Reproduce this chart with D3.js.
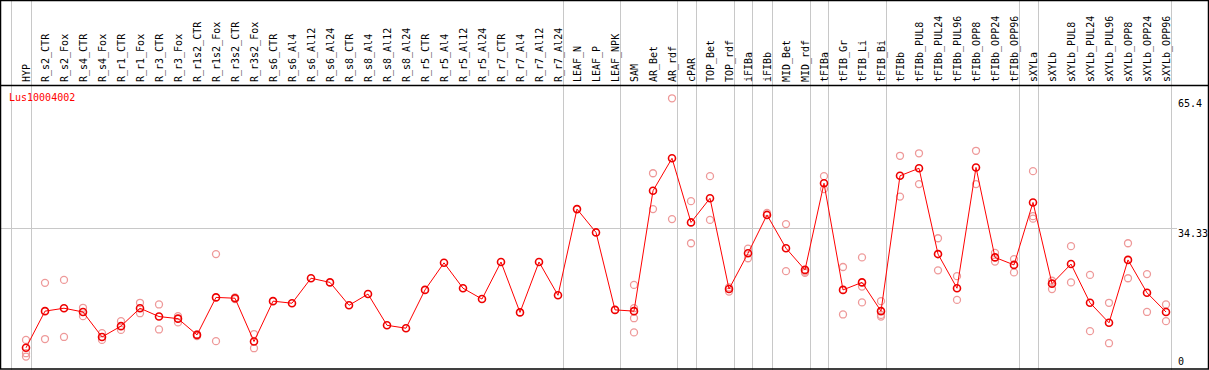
<!DOCTYPE html>
<html>
<head>
<meta charset="utf-8">
<script src="https://cdn.jsdelivr.net/npm/d3@7"></script>
<style>
  body { margin: 0; background: #fff; }
  svg { display: block; }
  text { font-family: "DejaVu Sans Mono", monospace; font-size: 10px; }
</style>
</head>
<body>
<div class="chart"></div>
<script>
var title = "Lus10004002";

var categories = ["HYP", "R_s2_CTR", "R_s2_Fox", "R_s4_CTR", "R_s4_Fox", "R_r1_CTR", "R_r1_Fox",
    "R_r3_CTR", "R_r3_Fox", "R_r1s2_CTR", "R_r1s2_Fox", "R_r3s2_CTR", "R_r3s2_Fox",
    "R_s6_CTR", "R_s6_Al4", "R_s6_Al12", "R_s6_Al24", "R_s8_CTR", "R_s8_Al4", "R_s8_Al12", "R_s8_Al24",
    "R_r5_CTR", "R_r5_Al4", "R_r5_Al12", "R_r5_Al24", "R_r7_CTR", "R_r7_Al4", "R_r7_Al12", "R_r7_Al24",
    "LEAF_N", "LEAF_P", "LEAF_NPK", "SAM", "AR_Bet", "AR_rdf", "cPAR", "TOP_Bet", "TOP_rdf",
    "iFIBa", "iFIBb", "MID_Bet", "MID_rdf", "tFIBa", "tFIB_Gr", "tFIB_Li", "tFIB_Bi",
    "tFIBb", "tFIBb_PUL8", "tFIBb_PUL24", "tFIBb_PUL96", "tFIBb_OPP8", "tFIBb_OPP24", "tFIBb_OPP96",
    "sXYLa", "sXYLb", "sXYLb_PUL8", "sXYLb_PUL24", "sXYLb_PUL96", "sXYLb_OPP8", "sXYLb_OPP24", "sXYLb_OPP96"];

// number of samples in each tissue group (separated by grey lines)
var groupSizes = [1, 28, 3, 3, 1, 2, 1, 1, 2, 1, 3, 7, 1, 7];

var means = [5.5, 14.3, 15.0, 14.1, 8.1, 10.7, 15.0, 13.0, 12.5, 8.6, 17.6, 17.4, 7.0,
    16.7, 16.2, 22.2, 21.2, 15.7, 18.4, 10.9, 10.2, 19.4, 25.9, 19.8, 17.2, 26.1, 14.0, 26.1, 18.1,
    38.8, 33.2, 14.6, 14.3, 43.2, 51.0, 35.6, 41.4, 19.6, 28.2, 37.4, 29.4, 24.2, 45.0, 19.4, 21.2, 14.3,
    46.8, 48.6, 28.0, 19.8, 48.8, 27.2, 25.4, 40.4, 20.9, 25.6, 16.3, 11.5, 26.6, 18.7, 14.1];

var replicates = [
    [7.4, 4.2, 3.4], [21.1, 7.6], [21.8, 8.1], [15.1, 13.1], [9.0, 7.4], [11.9, 9.8], [16.3, 13.8],
    [15.9, 9.9], [13.1, 11.6], [8.7, 8.3], [28.0, 7.1], [17.6, 17.2], [8.8, 5.4],
    [], [], [], [], [], [], [], [], [], [], [], [], [], [], [], [],
    [], [], [],
    [20.6, 15.0, 12.6, 9.2], [47.4, 38.8], [65.4, 36.4], [40.7, 30.6], [46.7, 36.2], [20.0, 19.0],
    [29.3, 27.0], [37.9], [35.2, 23.9], [23.8, 23.5], [46.7, 43.6], [24.9, 13.5], [27.2, 20.2, 16.4],
    [16.7, 13.4, 13.0],
    [51.6, 41.8], [52.2, 44.8], [31.8, 24.1], [22.7, 17.0], [52.8, 44.8], [28.3, 26.2], [26.8, 23.6],
    [47.9, 37.1, 36.5], [21.6, 19.6], [29.9, 21.2], [23.0, 9.5], [16.3, 6.6], [30.6, 22.2],
    [23.2, 14.1], [15.9, 11.9]];

var yTicks = [0, 34.33, 65.4];
var yGrid = [34.33];

var svgWidth = 1209;
var svgHeight = 370;
var headerBottom = 85.5;

var svg = d3.select(".chart")
    .append("svg")
    .attr("width", svgWidth)
    .attr("height", svgHeight);

svg.append("rect")
    .attr("width", svgWidth)
    .attr("height", svgHeight)
    .attr("fill", "#fff");

var xScale = d3.scaleLinear().domain([0, categories.length - 1]).range([26, 1166]);
var yScale = d3.scaleLinear().domain([0, 65.4]).range([370.7, 98.3]);

// group separators
var bounds = [-1];
var acc = -1;
groupSizes.forEach(function(n) {
    acc += n;
    bounds.push(acc);
});

svg.selectAll(".vgrid")
    .data(bounds)
    .enter()
    .append("line")
    .attr("class", "vgrid")
    .attr("x1", function(d) { return Math.round(xScale(d) + 4.5) + 0.5; })
    .attr("x2", function(d) { return Math.round(xScale(d) + 4.5) + 0.5; })
    .attr("y1", 0)
    .attr("y2", svgHeight)
    .attr("stroke", "#c8c8c8")
    .attr("stroke-width", 1);

svg.selectAll(".hgrid")
    .data(yGrid)
    .enter()
    .append("line")
    .attr("class", "hgrid")
    .attr("x1", 1)
    .attr("x2", 1177)
    .attr("y1", function(d) { return Math.round(yScale(d)) + 0.5; })
    .attr("y2", function(d) { return Math.round(yScale(d)) + 0.5; })
    .attr("stroke", "#c8c8c8")
    .attr("stroke-width", 1);

// frame and header separator
svg.append("rect")
    .attr("x", 0.5)
    .attr("y", 0.5)
    .attr("width", svgWidth - 1)
    .attr("height", svgHeight - 1.5)
    .attr("fill", "none")
    .attr("stroke", "#000")
    .attr("stroke-width", 1.5);

svg.append("line")
    .attr("x1", 0)
    .attr("x2", svgWidth)
    .attr("y1", headerBottom)
    .attr("y2", headerBottom)
    .attr("stroke", "#000")
    .attr("stroke-width", 1.5);

// rotated sample labels
svg.selectAll(".cat")
    .data(categories)
    .enter()
    .append("text")
    .attr("class", "cat")
    .attr("transform", function(d, i) {
        return "translate(" + (xScale(i) + 4) + ",82) rotate(-90)";
    })
    .attr("fill", "#000")
    .text(function(d) { return d; });

// y axis labels on the right
svg.selectAll(".ytick")
    .data(yTicks)
    .enter()
    .append("text")
    .attr("class", "ytick")
    .attr("x", 1178)
    .attr("y", function(d) { return Math.min(yScale(d) + 9, 365); })
    .attr("fill", "#000")
    .text(function(d) { return d; });

svg.append("text")
    .attr("x", 9)
    .attr("y", 101)
    .attr("fill", "#ff0000")
    .text(title);

// replicate points
var repPoints = [];
replicates.forEach(function(list, i) {
    list.forEach(function(v) { repPoints.push({ i: i, v: v }); });
});

svg.selectAll(".rep")
    .data(repPoints)
    .enter()
    .append("circle")
    .attr("class", "rep")
    .attr("cx", function(d) { return xScale(d.i); })
    .attr("cy", function(d) { return yScale(d.v); })
    .attr("r", 3.5)
    .attr("fill", "none")
    .attr("stroke", "#ee9999")
    .attr("stroke-width", 1.3);

// mean line
var line = d3.line()
    .x(function(d, i) { return xScale(i); })
    .y(function(d) { return yScale(d); });

svg.append("path")
    .datum(means)
    .attr("d", line)
    .attr("fill", "none")
    .attr("stroke", "#ff0000")
    .attr("stroke-width", 1);

svg.selectAll(".mean")
    .data(means)
    .enter()
    .append("circle")
    .attr("class", "mean")
    .attr("cx", function(d, i) { return xScale(i); })
    .attr("cy", function(d) { return yScale(d); })
    .attr("r", 3.5)
    .attr("fill", "none")
    .attr("stroke", "#ee0000")
    .attr("stroke-width", 1.6);
</script>
</body>
</html>
